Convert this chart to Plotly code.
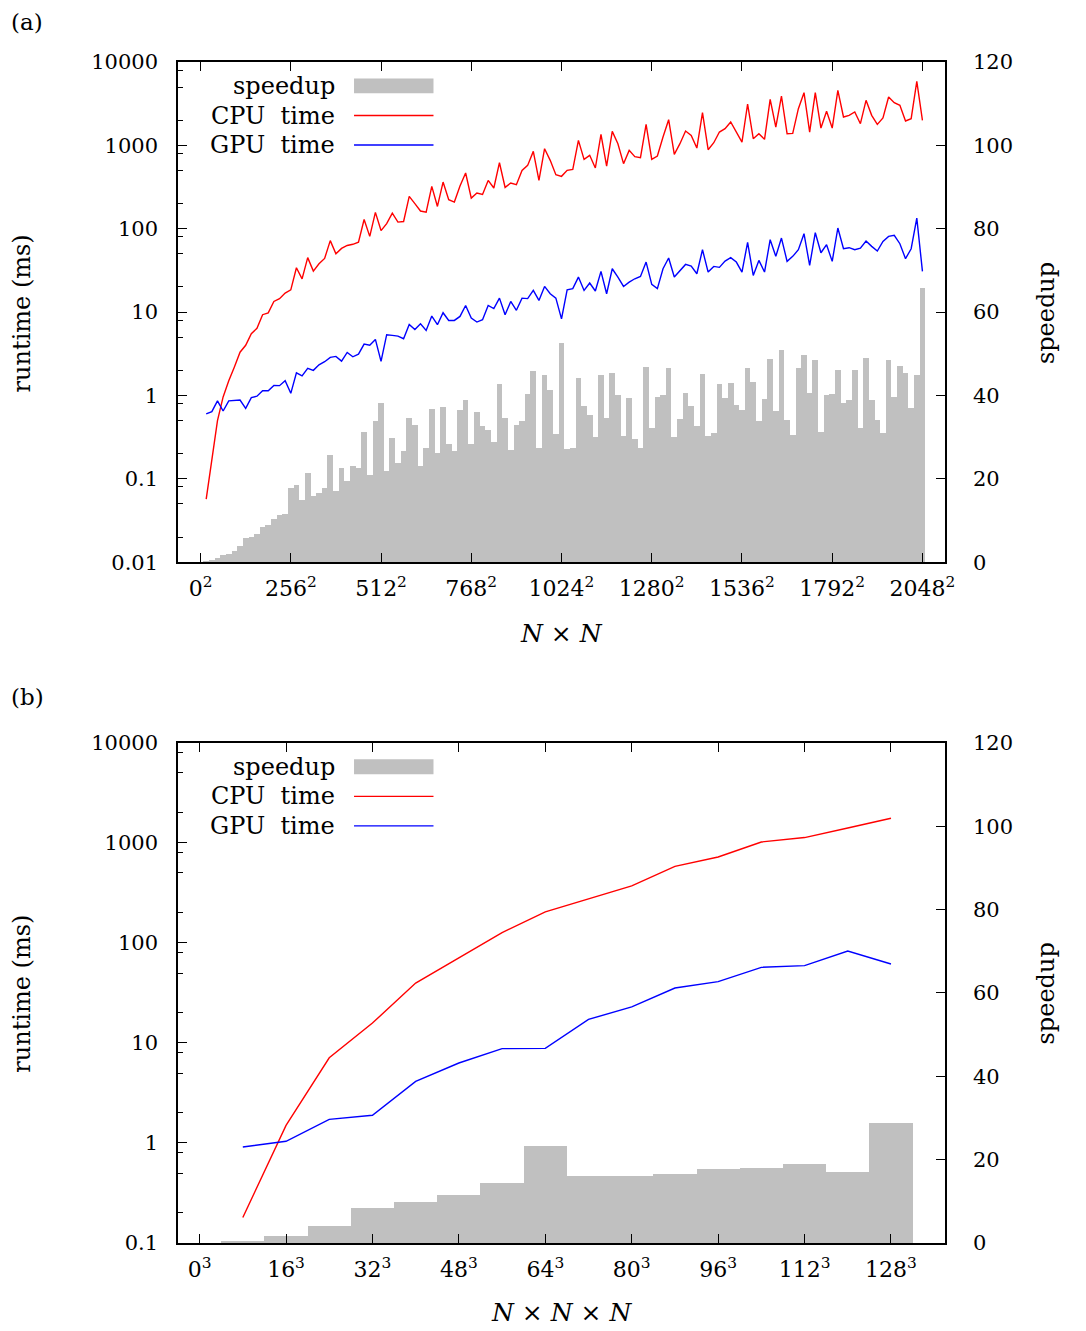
import plotly.graph_objects as go

###############################################################################
# Data
# (a) 2D problem, N x N grid
n_2d = list(range(16, 2049, 16))
cpu_2d = [0.057, 0.17, 0.5, 0.96, 1.5, 2.2, 3.3, 4.0, 5.5, 6.4, 9.3, 9.8, 13.4, 14.5, 16.9, 18.5,
          34, 25, 45, 31, 38, 44, 72, 50, 58, 63, 65, 69, 129, 81, 157,
          95, 115, 154, 120, 122, 244, 200, 163, 158, 322, 185, 363, 223, 209, 325, 466, 233,
          268, 258, 380, 308, 619, 313, 353, 337, 501, 575, 847, 380, 912, 661, 445, 425, 501,
          515, 1148, 679, 759, 535, 1355, 565, 1472, 1047, 603, 871, 731, 711, 1786, 679, 745,
          1259, 2032, 780, 1047, 1486, 1318, 929, 2466, 887, 1076, 1445, 1585, 1905, 1445, 1096,
          3133, 1202, 1380,
          1180, 3565, 1660, 3908, 1380, 1393, 2754, 4285, 1445, 4285, 1614, 2559, 1614, 4571,
          2188, 2291, 2512, 1820, 3467, 2291, 1786, 2128, 3802, 3251, 3020, 1959, 2089, 5861, 1995]
gpu_2d = [0.60, 0.64, 0.86, 0.65, 0.86, 0.87, 0.88, 0.70, 0.94, 0.98, 1.14, 1.14, 1.32, 1.31, 1.5,
          1.06, 1.87, 1.72, 2.11, 2.0, 2.33, 2.54, 2.86, 2.94, 2.58, 3.28, 2.91, 3.13, 4.13, 4.0, 4.7,
          2.56, 5.35, 5.25, 5.15, 4.79, 7.11, 6.19, 7.24, 6.03, 8.95, 7.05, 9.82, 7.94, 7.94, 8.87,
          12.0, 8.47, 7.59, 8.09, 12.0, 11.0, 14.7, 9.29, 13.4, 10.5, 14.7, 14.5, 18.2, 13.8, 20.3,
          16.6, 14.7, 8.3, 18.5,
          19.1, 26.3, 18.2, 22.3, 17.9, 30.8, 16.6, 33.1, 26.3, 20.3, 22.9, 25.1, 26.8, 39.8, 21.5,
          19.1, 33.1, 44.5, 26.3, 31.6, 37.3, 35.6, 28.8, 56.0, 30.2, 35.3, 34.4, 40.9, 44.9, 39.8,
          30.2, 68.5, 27.5, 41.7,
          30.2, 73.8, 46.6, 77.3, 40.6, 46.6, 56.0, 87.1, 36.3, 89.5, 51.5, 64.3, 40.6, 102, 57.5,
          59.2, 56.0, 58.6, 71.1, 61.4, 54.0, 70.5, 80.9, 83.2, 66.1, 43.7, 57.5, 134, 30.8]
speedup_2d = [0.3, 0.6, 0.9, 1.6, 2.0, 2.7, 3.8, 5.8, 6.1, 6.7, 8.5, 8.8, 10.3, 11.3, 11.6, 17.9,
              18.6, 15.0, 21.5, 15.9, 16.7, 17.8, 25.7, 17.1, 22.6, 19.4, 23.1, 22.6, 31.2, 21.0, 33.8,
              38.3, 21.9, 29.9, 23.7, 26.6, 34.7, 33.0, 23.1, 27.3, 36.8, 26.3, 37.3, 28.3, 26.6, 36.5,
              38.8, 28.3, 36.0, 32.7, 31.7, 28.9, 42.7, 34.6, 26.8, 33.0, 33.9, 40.4, 45.8, 27.4, 44.9,
              41.3, 30.8, 52.5, 27.1,
              27.5, 44.3, 37.4, 35.3, 30.1, 44.9, 34.6, 45.4, 40.1, 30.3, 39.5, 29.5, 27.3, 46.9, 32.2,
              39.7, 40.2, 46.5, 30.1, 34.4, 40.7, 37.4, 32.6, 45.1, 30.2, 31.0, 42.7, 39.4, 43.0, 37.8,
              36.5, 46.6, 43.3, 33.8,
              39.2, 48.8, 36.2, 50.8, 34.2, 30.5, 46.7, 49.7, 40.5, 48.4, 31.3, 40.2, 40.3, 46.1, 38.3,
              38.9, 46.1, 32.2, 49.1, 38.9, 34.2, 31.0, 48.6, 39.7, 47.0, 45.4, 37.1, 45.0, 65.8]

# (b) 3D problem, N x N x N grid
n_3d = list(range(8, 129, 8))
cpu_3d = [0.18, 1.5, 7.1, 15.8, 39.7, 71, 127, 204, 277, 371, 583, 723, 1021, 1130, 1410, 1762]
gpu_3d = [0.91, 1.04, 1.72, 1.89, 4.13, 6.3, 8.77, 8.83, 17.2, 22.9, 35.4, 41.0, 57.0, 59.3, 83.0, 61.5]
speedup_3d = [0.4, 1.6, 4.2, 8.5, 9.8, 11.5, 14.5, 23.3, 16.2, 16.1, 16.5, 17.8, 18.1, 19.1, 17.0, 28.9]

xticks_2d = [0, 256, 512, 768, 1024, 1280, 1536, 1792, 2048]
xticks_3d = [0, 16, 32, 48, 64, 80, 96, 112, 128]
speedup_ticks = [0, 20, 40, 60, 80, 100, 120]
runtime_ticks = [0.01, 0.1, 1, 10, 100, 1000, 10000]
runtime_labels = ['0.01', '0.1', '1', '10', '100', '1000', '10000']

###############################################################################

font_family = 'DejaVu Serif'
tick_font = dict(family=font_family, size=21, color='black')
GRAY = '#c0c0c0'

fig = go.Figure()

# bars on the linear (speedup) axis first so that the lines sit on top
fig.add_trace(go.Bar(x=n_2d, y=speedup_2d, width=16, marker=dict(color=GRAY, line=dict(width=0)),
                     xaxis='x', yaxis='y', name='speedup'))
fig.add_trace(go.Scatter(x=n_2d, y=cpu_2d, mode='lines', line=dict(color='red', width=1.4),
                         xaxis='x', yaxis='y2', name='CPU time'))
fig.add_trace(go.Scatter(x=n_2d, y=gpu_2d, mode='lines', line=dict(color='blue', width=1.4),
                         xaxis='x', yaxis='y2', name='GPU time'))

fig.add_trace(go.Bar(x=n_3d, y=speedup_3d, width=8, marker=dict(color=GRAY, line=dict(width=0)),
                     xaxis='x2', yaxis='y3', name='speedup'))
fig.add_trace(go.Scatter(x=n_3d, y=cpu_3d, mode='lines', line=dict(color='red', width=1.4),
                         xaxis='x2', yaxis='y4', name='CPU time'))
fig.add_trace(go.Scatter(x=n_3d, y=gpu_3d, mode='lines', line=dict(color='blue', width=1.4),
                         xaxis='x2', yaxis='y4', name='GPU time'))


def x_axis(rng, tickvals, power, anchor):
    return dict(range=rng, tickvals=tickvals,
                ticktext=['%d<sup>%d</sup>' % (v, power) for v in tickvals],
                ticks='inside', ticklen=9, tickwidth=1.2, tickcolor='black',
                mirror='ticks', showline=True, linecolor='black', linewidth=1.5,
                showgrid=False, zeroline=False, anchor=anchor, domain=[0, 1],
                tickfont=dict(family=font_family, size=22, color='black'), ticklabelstandoff=6)


def speed_axis(domain, anchor):
    return dict(domain=domain, anchor=anchor, side='right', range=[0, 120],
                tickvals=speedup_ticks, ticks='inside', ticklen=9, tickwidth=1.2,
                tickcolor='black', showline=True, linecolor='black', linewidth=1.5,
                showgrid=False, zeroline=False, tickfont=tick_font, ticklabelstandoff=22)


def log_axis(rng, overlay, anchor):
    lo, hi = rng
    minor_vals = [m * 10.0 ** e for e in range(lo, hi) for m in (2, 5, 8)]
    return dict(type='log', range=list(rng), overlaying=overlay, anchor=anchor, side='left',
                tickvals=runtime_ticks, ticktext=runtime_labels,
                ticks='inside', ticklen=9, tickwidth=1.2, tickcolor='black',
                minor=dict(tickvals=minor_vals, ticks='inside', ticklen=5, tickwidth=1.2,
                           tickcolor='black', showgrid=False),
                showline=True, linecolor='black', linewidth=1.5,
                showgrid=False, zeroline=False, tickfont=tick_font, ticklabelstandoff=14)


# page body has an 8px margin, so the figure is 8px smaller than the window
fig.update_layout(
    width=1078, height=1323, autosize=False,
    margin=dict(l=170, r=141, t=54, b=88),
    plot_bgcolor='white', paper_bgcolor='white',
    showlegend=False, bargap=0,
    font=dict(family=font_family, size=21, color='black'),
    xaxis=x_axis([-64, 2112], xticks_2d, 2, 'y'),
    yaxis=speed_axis([0.5765, 1], 'x'),
    yaxis2=log_axis((-2, 4), 'y', 'x'),
    xaxis2=x_axis([-4, 138], xticks_3d, 3, 'y3'),
    yaxis3=speed_axis([0, 0.4235], 'x2'),
    yaxis4=log_axis((-1, 4), 'y3', 'x2'),
)

# hand-made gnuplot style key (text on the left, sample on the right)
annotations = []
shapes = []
for xr, yr in (('x domain', 'y domain'), ('x2 domain', 'y3 domain')):
    for label, yc in (('speedup', 0.952), ('CPU&nbsp; time', 0.893), ('GPU&nbsp; time', 0.834)):
        annotations.append(dict(text=label, x=0.207, y=yc, xref=xr, yref=yr, showarrow=False,
                                xanchor='right', yanchor='middle',
                                font=dict(family=font_family, size=24)))
    shapes.append(dict(type='rect', xref=xr, yref=yr, x0=0.2295, x1=0.3331, y0=0.9374, y1=0.967,
                       fillcolor=GRAY, line=dict(width=0)))
    shapes.append(dict(type='line', xref=xr, yref=yr, x0=0.2295, x1=0.3331, y0=0.893, y1=0.893,
                       line=dict(color='red', width=1.4)))
    shapes.append(dict(type='line', xref=xr, yref=yr, x0=0.2295, x1=0.3331, y0=0.834, y1=0.834,
                       line=dict(color='blue', width=1.4)))

# panel labels and axis titles
for text, x, y, angle, anchor, size in (
        ('(a)', -0.219, 1.0335, 0, 'left', 23),
        ('(b)', -0.219, 0.462, 0, 'left', 23),
        ('runtime (ms)', -0.203, 0.7874, -90, 'center', 24),
        ('runtime (ms)', -0.203, 0.2113, -90, 'center', 24),
        ('speedup', 1.1317, 0.7874, -90, 'center', 24),
        ('speedup', 1.1317, 0.2113, -90, 'center', 24),
        ('<i>N</i> × <i>N</i>', 0.5, 0.5163, 0, 'center', 25),
        ('<i>N</i> × <i>N</i> × <i>N</i>', 0.5, -0.0587, 0, 'center', 25)):
    annotations.append(dict(text=text, x=x, y=y, xref='paper', yref='paper', showarrow=False,
                            textangle=angle, xanchor=anchor, yanchor='middle', borderpad=0,
                            font=dict(family=font_family, size=size)))

fig.update_layout(annotations=annotations, shapes=shapes)

fig.write_html("out.html")
